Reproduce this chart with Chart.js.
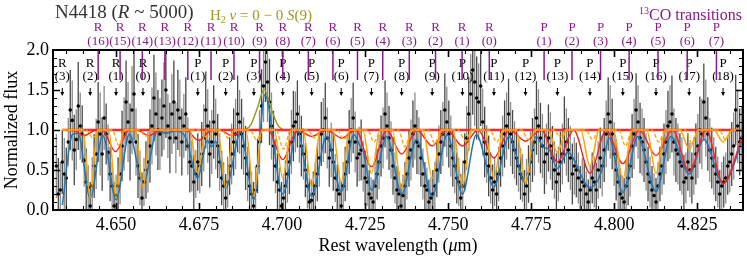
<!DOCTYPE html>
<html>
<head>
<meta charset="utf-8">
<script src="https://cdn.jsdelivr.net/npm/chart.js@4.4.0/dist/chart.umd.min.js"></script>
<style>html,body{margin:0;padding:0;background:#fff}canvas{display:block}</style>
</head>
<body>
<canvas id="chart" width="747" height="257"></canvas>
<script>
const wave = [
4.6320,4.6332,4.6344,4.6356,4.6368,4.6380,4.6392,4.6404,4.6416,4.6428,
4.6440,4.6452,4.6464,4.6476,4.6488,4.6500,4.6512,4.6524,4.6536,4.6548,
4.6560,4.6572,4.6584,4.6596,4.6608,4.6620,4.6632,4.6644,4.6656,4.6668,
4.6680,4.6692,4.6704,4.6716,4.6728,4.6740,4.6752,4.6764,4.6776,4.6788,
4.6800,4.6812,4.6824,4.6836,4.6848,4.6860,4.6872,4.6884,4.6896,4.6908,
4.6920,4.6932,4.6944,4.6956,4.6968,4.6980,4.6992,4.7004,4.7016,4.7028,
4.7040,4.7052,4.7064,4.7076,4.7088,4.7100,4.7112,4.7124,4.7136,4.7148,
4.7160,4.7172,4.7184,4.7196,4.7208,4.7220,4.7232,4.7244,4.7256,4.7268,
4.7280,4.7292,4.7304,4.7316,4.7328,4.7340,4.7352,4.7364,4.7376,4.7388,
4.7400,4.7412,4.7424,4.7436,4.7448,4.7460,4.7472,4.7484,4.7496,4.7508,
4.7520,4.7532,4.7544,4.7556,4.7568,4.7580,4.7592,4.7604,4.7616,4.7628,
4.7640,4.7652,4.7664,4.7676,4.7688,4.7700,4.7712,4.7724,4.7736,4.7748,
4.7760,4.7772,4.7784,4.7796,4.7808,4.7820,4.7832,4.7844,4.7856,4.7868,
4.7880,4.7892,4.7904,4.7916,4.7928,4.7940,4.7952,4.7964,4.7976,4.7988,
4.8000,4.8012,4.8024,4.8036,4.8048,4.8060,4.8072,4.8084,4.8096,4.8108,
4.8120,4.8132,4.8144,4.8156,4.8168,4.8180,4.8192,4.8204,4.8216,4.8228,
4.8240,4.8252,4.8264,4.8276,4.8288,4.8300,4.8312,4.8324,4.8336,4.8348,
4.8360,4.8372,4.8384];
const flux = [
0.55,0.25,0.45,0.85,1.12,0.88,1.05,0.62,0.28,0.30,
0.70,0.95,1.15,0.72,0.30,0.18,0.45,0.95,1.10,1.25,
0.85,0.40,0.35,0.60,1.05,1.20,0.95,1.30,1.05,1.20,
0.90,1.15,1.05,0.80,0.55,0.45,0.55,0.90,1.05,0.85,
0.95,0.60,0.30,0.35,0.70,0.95,1.10,0.80,0.45,0.20,
0.25,0.85,1.55,1.60,1.05,0.55,0.25,0.15,0.45,0.85,
1.10,0.95,0.70,0.30,0.12,0.30,0.65,1.00,0.90,0.75,
0.40,0.20,0.30,0.60,1.00,0.85,0.70,0.55,0.35,0.15,
0.30,0.60,0.90,1.05,0.75,0.40,0.20,0.18,0.45,0.75,
1.05,0.80,0.45,0.25,0.15,0.30,0.70,0.95,1.10,0.80,
0.55,0.35,0.30,0.90,1.45,1.60,1.35,1.10,0.70,0.40,
0.35,0.45,0.80,1.05,0.95,0.75,0.55,0.40,0.30,0.60,
0.85,1.05,0.80,0.70,0.80,0.50,0.45,0.70,0.85,0.65,
0.55,0.40,0.35,0.20,0.25,0.35,0.50,0.55,0.95,1.10,
0.70,0.35,0.15,0.30,0.55,0.95,1.10,0.85,0.60,0.35,
0.18,0.30,0.55,0.85,1.10,0.85,0.70,0.55,0.40,0.50,
0.55,0.80,0.95,1.15,0.75,0.55,0.35,0.30,0.40,0.60,
0.80,1.05,0.90];
const fluxErr = [
0.40,0.35,0.45,0.30,0.50,0.38,0.42,0.33,0.28,0.36,
0.44,0.52,0.40,0.35,0.30,0.26,0.38,0.46,0.50,0.55,
0.42,0.34,0.30,0.38,0.48,0.52,0.45,0.55,0.40,0.50,
0.44,0.48,0.40,0.36,0.32,0.30,0.34,0.42,0.46,0.40,
0.44,0.36,0.30,0.32,0.38,0.44,0.40,0.36,0.34,0.28,
0.30,0.40,0.45,0.50,0.42,0.34,0.28,0.30,0.36,0.40,
0.38,0.36,0.32,0.28,0.26,0.30,0.36,0.40,0.38,0.34,
0.30,0.28,0.30,0.36,0.40,0.38,0.34,0.32,0.30,0.26,
0.30,0.34,0.38,0.42,0.36,0.32,0.28,0.26,0.32,0.38,
0.42,0.36,0.32,0.28,0.26,0.30,0.36,0.40,0.44,0.38,
0.34,0.30,0.32,0.40,0.50,0.55,0.48,0.42,0.36,0.32,
0.30,0.34,0.38,0.42,0.40,0.36,0.32,0.30,0.34,0.38,
0.42,0.46,0.40,0.38,0.42,0.36,0.34,0.38,0.42,0.40,
0.36,0.32,0.30,0.28,0.30,0.32,0.36,0.38,0.42,0.46,
0.40,0.34,0.28,0.32,0.38,0.44,0.46,0.42,0.36,0.32,
0.28,0.30,0.36,0.40,0.46,0.42,0.38,0.36,0.32,0.34,
0.36,0.40,0.44,0.48,0.40,0.36,0.32,0.30,0.32,0.38,
0.42,0.46,0.40];
// observed spectrum, odd pixels
const waveOdd = [
4.6326,4.6338,4.6350,4.6362,4.6374,4.6386,4.6398,4.6410,4.6422,4.6434,
4.6446,4.6458,4.6470,4.6482,4.6494,4.6506,4.6518,4.6530,4.6542,4.6554,
4.6566,4.6578,4.6590,4.6602,4.6614,4.6626,4.6638,4.6650,4.6662,4.6674,
4.6686,4.6698,4.6710,4.6722,4.6734,4.6746,4.6758,4.6770,4.6782,4.6794,
4.6806,4.6818,4.6830,4.6842,4.6854,4.6866,4.6878,4.6890,4.6902,4.6914,
4.6926,4.6938,4.6950,4.6962,4.6974,4.6986,4.6998,4.7010,4.7022,4.7034,
4.7046,4.7058,4.7070,4.7082,4.7094,4.7106,4.7118,4.7130,4.7142,4.7154,
4.7166,4.7178,4.7190,4.7202,4.7214,4.7226,4.7238,4.7250,4.7262,4.7274,
4.7286,4.7298,4.7310,4.7322,4.7334,4.7346,4.7358,4.7370,4.7382,4.7394,
4.7406,4.7418,4.7430,4.7442,4.7454,4.7466,4.7478,4.7490,4.7502,4.7514,
4.7526,4.7538,4.7550,4.7562,4.7574,4.7586,4.7598,4.7610,4.7622,4.7634,
4.7646,4.7658,4.7670,4.7682,4.7694,4.7706,4.7718,4.7730,4.7742,4.7754,
4.7766,4.7778,4.7790,4.7802,4.7814,4.7826,4.7838,4.7850,4.7862,4.7874,
4.7886,4.7898,4.7910,4.7922,4.7934,4.7946,4.7958,4.7970,4.7982,4.7994,
4.8006,4.8018,4.8030,4.8042,4.8054,4.8066,4.8078,4.8090,4.8102,4.8114,
4.8126,4.8138,4.8150,4.8162,4.8174,4.8186,4.8198,4.8210,4.8222,4.8234,
4.8246,4.8258,4.8270,4.8282,4.8294,4.8306,4.8318,4.8330,4.8342,4.8354,
4.8366,4.8378];
const fluxOdd = [
0.20,0.60,0.40,1.25,0.75,1.30,0.95,0.35,0.05,0.55,
1.10,0.70,0.95,0.45,0.05,0.30,0.80,1.35,0.85,1.45,
0.55,0.15,0.50,0.80,1.40,1.00,1.15,1.50,0.90,1.35,
1.25,0.85,1.20,0.60,0.35,0.60,0.70,1.25,0.70,1.10,
0.80,0.40,0.15,0.55,0.85,1.20,0.95,0.65,0.30,0.05,
0.55,1.30,1.85,1.35,0.80,0.35,0.05,0.30,0.60,1.05,
1.20,0.80,0.50,0.10,0.20,0.45,0.95,1.15,0.65,0.60,
0.25,0.05,0.45,0.85,1.15,0.65,0.75,0.40,0.20,0.10,
0.45,0.80,1.20,0.90,0.55,0.25,0.05,0.30,0.65,0.95,
0.85,0.65,0.30,0.10,0.20,0.50,0.85,1.25,0.95,0.65,
0.40,0.15,0.60,1.20,1.75,1.40,1.55,0.85,0.55,0.25,
0.20,0.65,0.95,1.20,0.85,0.65,0.45,0.20,0.45,0.75,
1.15,0.90,0.60,0.90,0.65,0.35,0.60,1.00,0.75,0.45,
0.50,0.25,0.30,0.10,0.40,0.25,0.65,0.75,1.20,0.95,
0.50,0.20,0.10,0.40,0.80,1.25,0.90,0.75,0.45,0.25,
0.10,0.45,0.70,1.05,1.20,0.75,0.60,0.35,0.60,0.40,
0.70,1.00,1.35,0.95,0.65,0.45,0.20,0.35,0.55,0.70,
1.25,0.85];
const fluxErrOdd = [
0.45,0.40,0.38,0.50,0.44,0.55,0.36,0.42,0.30,0.40,
0.50,0.46,0.38,0.34,0.30,0.36,0.44,0.52,0.48,0.58,
0.40,0.32,0.36,0.46,0.54,0.50,0.48,0.60,0.44,0.52,
0.50,0.42,0.46,0.38,0.34,0.36,0.40,0.48,0.42,0.46,
0.40,0.34,0.30,0.36,0.42,0.48,0.44,0.40,0.32,0.30,
0.34,0.46,0.50,0.54,0.44,0.36,0.30,0.32,0.40,0.44,
0.42,0.38,0.34,0.30,0.28,0.34,0.40,0.44,0.36,0.36,
0.32,0.30,0.34,0.40,0.44,0.36,0.38,0.34,0.30,0.28,
0.32,0.38,0.42,0.40,0.36,0.30,0.28,0.30,0.36,0.42,
0.40,0.36,0.30,0.28,0.30,0.34,0.40,0.46,0.42,0.36,
0.32,0.30,0.36,0.46,0.56,0.52,0.50,0.44,0.38,0.32,
0.30,0.36,0.42,0.44,0.40,0.34,0.32,0.30,0.36,0.40,
0.46,0.44,0.40,0.42,0.40,0.36,0.38,0.42,0.40,0.38,
0.34,0.30,0.32,0.28,0.32,0.34,0.38,0.40,0.46,0.44,
0.38,0.32,0.30,0.34,0.40,0.46,0.44,0.40,0.34,0.30,
0.30,0.34,0.38,0.44,0.48,0.40,0.36,0.34,0.36,0.32,
0.38,0.42,0.48,0.46,0.38,0.34,0.30,0.32,0.36,0.40,
0.44,0.42];

// model curves [wavelength, normalized flux]
const totalModel = [
[4.6338,0.06],[4.6368,0.94],[4.6385,0.96],[4.6422,0.15],[4.6460,0.93],[4.6500,0.13],
[4.6540,0.95],[4.6581,0.33],[4.6625,0.99],[4.6650,0.96],[4.6680,0.99],[4.6710,0.90],
[4.6746,0.40],[4.6775,0.87],[4.6787,0.79],[4.6800,0.86],[4.6830,0.27],[4.6875,0.97],
[4.6915,0.13],[4.6948,1.44],[4.7002,0.20],[4.7046,0.99],[4.7089,0.17],[4.7134,0.92],
[4.7178,0.23],[4.7216,0.94],[4.7236,0.79],[4.7244,0.74],[4.7269,0.25],[4.7315,0.92],
[4.7360,0.20],[4.7405,0.88],[4.7452,0.17],[4.7497,0.94],[4.7543,0.20],[4.7585,0.94],
[4.7638,0.29],[4.7683,0.92],[4.7733,0.34],[4.7765,0.92],[4.7786,0.79],[4.7805,0.75],
[4.7829,0.52],[4.7860,0.72],[4.7927,0.28],[4.7960,0.46],[4.7985,0.90],[4.8026,0.22],
[4.8071,0.92],[4.8126,0.23],[4.8171,0.92],[4.8226,0.45],[4.8270,0.88],[4.8328,0.33],
[4.8388,0.88]];
const coModel = [
[4.6338,1],[4.6400,1],[4.6422,0.15],[4.6444,1],[4.6478,1],[4.6500,0.15],[4.6522,1],
[4.6559,1],[4.6581,0.27],[4.6603,1],[4.6722,1],[4.6746,0.46],[4.6770,1],
[4.6806,1],[4.6830,0.28],[4.6854,1],[4.6891,1],[4.6915,0.17],[4.6939,1],
[4.6976,1],[4.7002,0.40],[4.7028,1],[4.7063,1],[4.7089,0.29],[4.7115,1],
[4.7152,1],[4.7178,0.35],[4.7204,1],[4.7243,1],[4.7269,0.46],[4.7295,1],
[4.7332,1],[4.7360,0.27],[4.7388,1],[4.7424,1],[4.7452,0.40],[4.7480,1],
[4.7515,1],[4.7543,0.29],[4.7571,1],[4.7610,1],[4.7638,0.40],[4.7666,1],
[4.7705,1],[4.7733,0.34],[4.7761,1],[4.7801,1],[4.7829,0.72],[4.7857,1],
[4.7899,1],[4.7927,0.55],[4.7955,1],[4.7998,1],[4.8026,0.38],[4.8054,1],
[4.8098,1],[4.8126,0.46],[4.8154,1],[4.8198,1],[4.8226,0.76],[4.8254,1],
[4.8300,1],[4.8328,0.85],[4.8356,1],[4.8388,1]];
const coDashModel = [
[4.6338,1],[4.6410,1],[4.6430,0.90],[4.6450,1],[4.6488,1],[4.6508,0.81],[4.6528,1],
[4.6569,1],[4.6589,0.92],[4.6609,1],[4.6756,1],[4.6776,0.89],[4.6796,1],
[4.6818,1],[4.6838,0.90],[4.6858,1],[4.6903,1],[4.6923,0.88],[4.6943,1],
[4.6982,1],[4.7004,0.76],[4.7026,1],[4.7077,1],[4.7097,0.90],[4.7117,1],
[4.7166,1],[4.7186,0.88],[4.7206,1],[4.7257,1],[4.7277,0.85],[4.7297,1],
[4.7350,1],[4.7370,0.79],[4.7390,1],[4.7440,1],[4.7460,0.83],[4.7480,1],
[4.7531,1],[4.7551,0.86],[4.7571,1],[4.7626,1],[4.7646,0.85],[4.7666,1],
[4.7721,1],[4.7741,0.88],[4.7761,1],[4.7817,1],[4.7837,0.92],[4.7857,1],
[4.7915,1],[4.7935,0.88],[4.7955,1],[4.8014,1],[4.8034,0.80],[4.8054,1],
[4.8114,1],[4.8134,0.85],[4.8154,1],[4.8214,1],[4.8234,0.83],[4.8254,1],
[4.8316,1],[4.8336,0.88],[4.8356,1],[4.8388,1]];
const isoModel = [
[4.6338,1],[4.6370,1],[4.6403,0.93],[4.6440,1],[4.6458,1],[4.6498,0.73],[4.6540,1],
[4.6562,1],[4.6598,0.93],[4.6635,1],[4.6710,1],[4.6748,0.87],[4.6790,1],
[4.6812,1],[4.6848,0.93],[4.6885,1],[4.6958,1],[4.7002,0.63],[4.7046,1],
[4.7089,0.92],[4.7134,1],[4.7180,0.90],[4.7222,1],[4.7269,0.54],[4.7315,1],
[4.7360,0.70],[4.7406,1],[4.7452,0.80],[4.7497,1],[4.7543,0.80],[4.7590,1],
[4.7638,0.65],[4.7685,1],[4.7733,0.86],[4.7781,1],[4.7829,0.60],[4.7878,1],
[4.7927,0.46],[4.7976,1],[4.8026,0.58],[4.8076,1],[4.8126,0.68],[4.8176,1],
[4.8226,0.48],[4.8277,1],[4.8328,0.33],[4.8388,0.95]];
const h2Model = [
[4.6338,1],[4.6880,1],[4.6905,1.06],[4.6925,1.27],[4.6946,1.51],[4.6967,1.27],
[4.6987,1.06],[4.7012,1],[4.8388,1]];
const continuum = [[4.6338,1],[4.8388,1]];

// line identifications
const co12Wave = [4.6338,4.6422,4.6500,4.6581,4.6746,4.6830,4.6915,4.7002,4.7089,4.7178,4.7269,
  4.7360,4.7452,4.7543,4.7638,4.7733,4.7829,4.7927,4.8026,4.8126,4.8226,4.8328];
const co12Name = ['R(3)','R(2)','R(1)','R(0)','P(1)','P(2)','P(3)','P(4)','P(5)','P(6)','P(7)',
  'P(8)','P(9)','P(10)','P(11)','P(12)','P(13)','P(14)','P(15)','P(16)','P(17)','P(18)'];
const co13Wave = [4.6446,4.6512,4.6579,4.6647,4.6716,4.6786,4.6855,4.6932,4.7002,4.7079,4.7153,
  4.7227,4.7303,4.7383,4.7462,4.7542,4.7624,4.7789,4.7873,4.7959,4.8045,4.8132,4.8220,4.8308];
const co13Name = ['R(16)','R(15)','R(14)','R(13)','R(12)','R(11)','R(10)','R(9)','R(8)','R(7)',
  'R(6)','R(5)','R(4)','R(3)','R(2)','R(1)','R(0)','P(1)','P(2)','P(3)','P(4)','P(5)','P(6)','P(7)'];

const SERIF = "'Liberation Serif', 'Times New Roman', serif";
const PURPLE = '#8b1a8b';
const OLIVE = '#9a9a1c';
Chart.defaults.font.family = SERIF;
Chart.defaults.color = '#000';

function xy(arr) { return arr.map(p => ({x: p[0], y: p[1]})); }

function textRuns(ctx, parts, x, y, align) {
  let w = 0;
  parts.forEach(p => { ctx.font = p.f; w += ctx.measureText(p.t).width; });
  let cx = align === 'right' ? x - w : (align === 'center' ? x - w / 2 : x);
  parts.forEach(p => {
    ctx.font = p.f;
    ctx.fillText(p.t, cx, y + (p.dy || 0));
    cx += ctx.measureText(p.t).width;
  });
}

function errorBars(ctx, x, y, ws, fs, es, color) {
  ctx.strokeStyle = color;
  ws.forEach((w, i) => {
    const px = x.getPixelForValue(w);
    ctx.beginPath();
    ctx.moveTo(px, y.getPixelForValue(fs[i] - es[i]));
    ctx.lineTo(px, y.getPixelForValue(fs[i] + es[i]));
    ctx.stroke();
  });
}

const decorations = {
  id: 'decorations',
  beforeDatasetsDraw(chart) {
    const {ctx, chartArea: a, scales: {x, y}} = chart;
    ctx.save();
    ctx.beginPath();
    ctx.rect(a.left, a.top, a.right - a.left, a.bottom - a.top);
    ctx.clip();
    ctx.lineWidth = 1.3;
    errorBars(ctx, x, y, wave, flux, fluxErr, 'rgba(120,120,120,0.85)');
    errorBars(ctx, x, y, waveOdd, fluxOdd, fluxErrOdd, 'rgba(25,25,25,0.8)');
    ctx.restore();
  },
  afterDraw(chart) {
    const {ctx, chartArea: a, scales: {x, y}} = chart;
    ctx.save();
    ctx.strokeStyle = '#000';
    // inward ticks, all four sides
    for (let i = 0; i <= 42; i++) {
      const v = 4.630 + i * 0.005;
      if (v < x.min || v > x.max) continue;
      const major = Math.abs((v - 4.65) / 0.025 - Math.round((v - 4.65) / 0.025)) < 1e-6;
      const len = major ? 7 : 4;
      const px = Math.round(x.getPixelForValue(v)) + 0.5;
      ctx.lineWidth = major ? 1.6 : 1.1;
      ctx.beginPath();
      ctx.moveTo(px, a.bottom); ctx.lineTo(px, a.bottom - len);
      ctx.moveTo(px, a.top); ctx.lineTo(px, a.top + len);
      ctx.stroke();
    }
    for (let i = 1; i < 20; i++) {
      const major = i % 5 === 0;
      const len = major ? 7 : 4;
      const py = Math.round(y.getPixelForValue(i * 0.1)) + 0.5;
      ctx.lineWidth = major ? 1.6 : 1.1;
      ctx.beginPath();
      ctx.moveTo(a.left, py); ctx.lineTo(a.left + len, py);
      ctx.moveTo(a.right, py); ctx.lineTo(a.right - len, py);
      ctx.stroke();
    }
    ctx.lineWidth = 2;
    ctx.strokeRect(a.left, a.top, a.right - a.left, a.bottom - a.top);

    ctx.textBaseline = 'middle';
    ctx.textAlign = 'center';
    // 12CO labels and arrows
    ctx.fillStyle = '#000';
    ctx.strokeStyle = '#000';
    ctx.lineWidth = 1;
    co12Wave.forEach((w, i) => {
      const px = x.getPixelForValue(w);
      ctx.font = '13px ' + SERIF;
      ctx.fillText(co12Name[i][0], px, a.top + 14);
      ctx.fillText(co12Name[i].slice(1), px, a.top + 27);
      ctx.beginPath();
      ctx.moveTo(px, a.top + 38); ctx.lineTo(px, a.top + 45);
      ctx.stroke();
      ctx.beginPath();
      ctx.moveTo(px - 2, a.top + 42); ctx.lineTo(px, a.top + 46); ctx.lineTo(px + 2, a.top + 42);
      ctx.closePath(); ctx.fill();
    });
    // 13CO labels and markers
    ctx.fillStyle = PURPLE;
    ctx.strokeStyle = PURPLE;
    ctx.lineWidth = 1.5;
    co13Wave.forEach((w, i) => {
      const px = x.getPixelForValue(w);
      ctx.font = '13px ' + SERIF;
      ctx.fillText(co13Name[i][0], px, a.top - 22);
      ctx.fillText(co13Name[i].slice(1), px, a.top - 8);
      ctx.beginPath();
      ctx.moveTo(px, a.top + 1); ctx.lineTo(px, a.top + 30);
      ctx.stroke();
    });

    ctx.textAlign = 'left';
    // title
    ctx.fillStyle = '#333';
    textRuns(ctx, [
      {t: 'N4418 (', f: '19px ' + SERIF},
      {t: 'R', f: 'italic 19px ' + SERIF},
      {t: ' ~ 5000)', f: '19px ' + SERIF}
    ], 55, 13, 'left');
    // H2 label
    ctx.fillStyle = OLIVE;
    textRuns(ctx, [
      {t: 'H', f: '15px ' + SERIF},
      {t: '2', f: '10px ' + SERIF, dy: 4},
      {t: ' ', f: '15px ' + SERIF},
      {t: 'v', f: 'italic 15px ' + SERIF},
      {t: ' = 0 \u2212 0 ', f: '15px ' + SERIF},
      {t: 'S', f: 'italic 15px ' + SERIF},
      {t: '(9)', f: '15px ' + SERIF}
    ], 210, 16, 'left');
    // 13CO heading
    ctx.fillStyle = PURPLE;
    textRuns(ctx, [
      {t: '13', f: '10px ' + SERIF, dy: -5},
      {t: 'CO transitions', f: '16px ' + SERIF}
    ], 742, 16, 'right');
    // x axis title
    ctx.fillStyle = '#000';
    textRuns(ctx, [
      {t: 'Rest wavelength (', f: '18px ' + SERIF},
      {t: '\u03bc', f: 'italic 18px ' + SERIF},
      {t: 'm)', f: '18px ' + SERIF}
    ], (a.left + a.right) / 2, 246, 'center');
    ctx.restore();
  }
};

const curve = (data, color, width, dash) => ({
  type: 'line', data: xy(data), borderColor: color, borderWidth: width,
  borderDash: dash || [], pointRadius: 0, fill: false, cubicInterpolationMode: 'monotone'
});

const points = (ws, fs) => ({
  type: 'line', data: ws.map((w, i) => ({x: w, y: fs[i]})), showLine: false,
  pointRadius: 1.8, pointBackgroundColor: '#000', pointBorderWidth: 0, borderColor: '#000'
});

new Chart(document.getElementById('chart').getContext('2d'), {
  type: 'line',
  data: {
    datasets: [
      curve(coModel, '#ffa500', 1.5),
      curve(coDashModel, '#ffa500', 1.3, [4, 2]),
      curve(isoModel, '#ff1f1f', 1.4),
      curve(continuum, '#ff2a2a', 2.6),
      curve(totalModel, '#1f77b4', 1.5),
      curve(h2Model, OLIVE, 1.5),
      points(wave, flux),
      points(waveOdd, fluxOdd)
    ]
  },
  options: {
    responsive: false,
    animation: false,
    devicePixelRatio: 1,
    layout: {padding: {top: 50, right: 2, left: 0, bottom: 0}},
    plugins: {legend: {display: false}, tooltip: {enabled: false}},
    scales: {
      x: {
        type: 'linear', min: 4.631, max: 4.8388,
        grid: {display: false, drawTicks: false}, border: {display: false},
        ticks: {stepSize: 0.025, includeBounds: false, maxRotation: 0, padding: 4,
          font: {size: 18}, callback: v => v.toFixed(3)},
        afterFit(s) { s.height = 47; }
      },
      y: {
        min: 0, max: 2,
        grid: {display: false, drawTicks: false}, border: {display: false},
        ticks: {stepSize: 0.5, padding: 4, font: {size: 18}, callback: v => v.toFixed(1)},
        title: {display: true, text: 'Normalized flux', font: {size: 18}, padding: {top: 1, bottom: 0}},
        afterFit(s) { s.width = 53; }
      }
    }
  },
  plugins: [decorations]
});
</script>
</body>
</html>
